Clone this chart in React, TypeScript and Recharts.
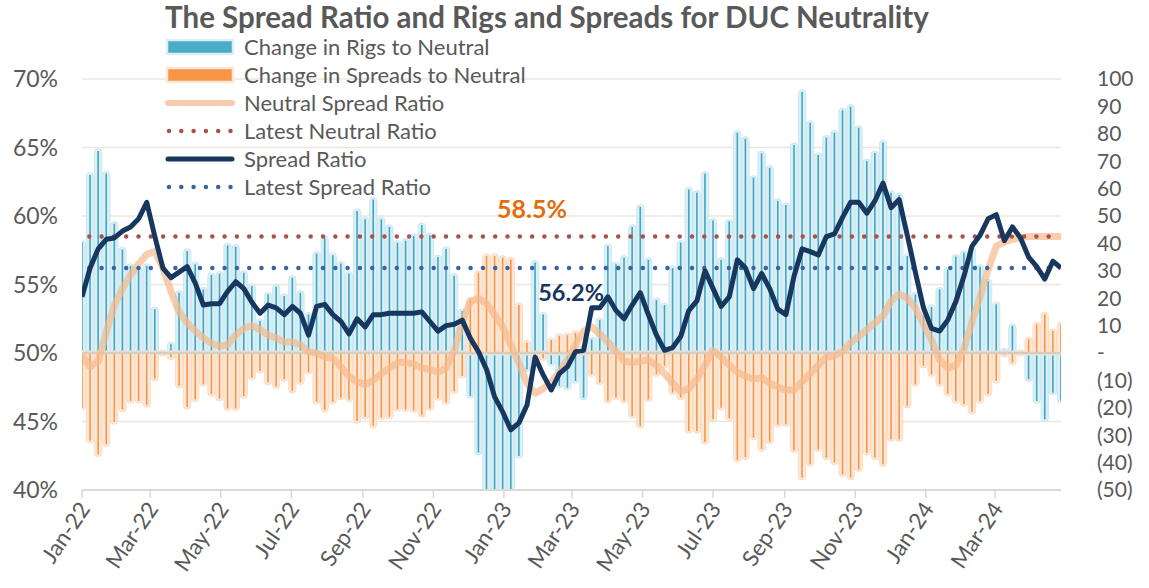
import React from 'react';
import { ComposedChart, Bar, Line, XAxis, YAxis, CartesianGrid, ReferenceLine } from 'recharts';

// ---------- data ----------
const START = Date.UTC(2022, 0, 1);
const DAY = 86400000;

const rigsChange = [
  40.3, 65, 73.7, 65.5, 47.2, 37.8, 31.8, 30.5, 31.8, 16,
  0.3, 3.2, 22, 37.2, 32.4, 23.2, 28.5, 29, 39.3, 38.8,
  29.3, 24.5, 11.7, 21.4, 24.2, 20.8, 27.5, 22, 14.1, 36.3,
  42, 35.7, 32.7, 29, 51.8, 48.8, 56, 48.8, 46, 40.3,
  41, 42.7, 46.7, 43, 35, 38, 28.2, 15.3, -15.7, -36.4,
  -50, -50, -50, -50, -37.6, -6, 33, 14.1, -4, -12,
  -12.7, -10.2, -16.3, 5, 12, 39, 32.4, 34.8, 46, 53.3,
  34, 19.3, 17.5, 31, 40.3, 59.7, 58.5, 65.5, 48.4, 34,
  48, 80.4, 78.2, 64, 72.9, 67.6, 55.5, 54, 75.9, 95.3,
  84, 72.3, 78.6, 80.4, 88.6, 89.9, 82.2, 70, 73, 76.8,
  58.5, 57.6, 35.4, 21.4, 13.5, 16.8, 23.2, 30.5, 35.2, 36.6,
  38, 31.5, 26.2, 17.8, 1, 9.9, 0.3, -9.6, -17.5, -24.2,
  -14.5, -17.5,
];

const spreadsChange = [
  -20, -32, -37, -33.3, -25.2, -20.6, -17.5, -17.5, -19, -9.4,
  -0.3, -1.7, -12, -19.7, -17, -11.4, -15, -16.7, -20.2, -20.2,
  -15.7, -9, -6.6, -10.8, -12.2, -9.6, -13.9, -10.8, -6.9, -17.8,
  -20.8, -17.8, -16.3, -17, -24.8, -23.3, -26.6, -23.6, -23.3, -20.5,
  -20.6, -21, -22.7, -20.3, -16.5, -18, -14, -8.4, 19.6, 29.3,
  35.4, 35.4, 34.8, 34.2, 17.5, 3.8, -3, -2, 4.7, 6.3,
  6.5, 7.4, 2, -7.8, -10.8, -17.5, -16.3, -17.5, -23, -26.6,
  -17, -7.8, -4.7, -14.5, -16.3, -28.5, -28.5, -32.5, -24.2, -20,
  -23.8, -39, -38.1, -30.9, -35.1, -32.4, -26.2, -26, -35.5, -45.5,
  -40.6, -35.2, -38.2, -40, -44.3, -45.5, -42.5, -36.4, -38.2, -40.6,
  -31.5, -31.5, -19.3, -11.4, -4.7, -7.8, -11.4, -15, -17.5, -18.7,
  -21.5, -17.5, -15, -10.2, -0.7, -3.5, -0.3, 5, 10.5, 14.1,
  8, 10.5,
];

const neutralRatio = [
  49.85, 49.0, 49.4, 51.5, 53.5, 54.7, 55.7, 56.5, 57.2, 57.4,
  56.2, 54.5, 53.0, 52.2, 51.6, 51.1, 50.7, 50.5, 50.6, 51.3,
  51.8, 52.0, 51.7, 51.3, 51.1, 50.8, 50.8, 50.6, 50.1, 50.0,
  49.7, 49.6, 49.0, 48.3, 47.9, 47.7, 48.0, 48.5, 48.9, 49.3,
  49.3, 49.2, 48.9, 48.8, 48.6, 48.9, 50.1, 52.3, 53.75, 54.0,
  53.6, 52.8, 51.9, 50.6, 49.3, 47.8, 47.05, 47.4, 47.9, 48.6,
  49.5, 50.6, 51.6, 51.9, 51.4, 50.8, 50.1, 49.4, 49.3, 49.4,
  49.5, 49.1, 48.5, 47.8, 47.2, 47.4, 48.1, 49.1, 50.2, 49.7,
  49.1, 48.6, 48.3, 48.1, 48.2, 47.8, 47.5, 47.3, 47.3, 47.9,
  48.5, 49.1, 49.7, 49.8, 50.1, 50.75, 51.2, 51.7, 52.2, 52.7,
  53.8, 54.3, 54.0, 53.3, 52.1, 50.95, 49.5, 48.9, 49.1, 50.3,
  52.3, 54.1, 56.1, 57.8, 58.1, 58.3, 58.4, 58.5, 58.5, 58.5,
  58.5, 58.5,
];

const spreadRatio = [
  54.1, 56.2, 57.6, 58.3, 58.4, 58.9, 59.2, 59.8, 61.0, 58.5,
  56.2, 55.5, 55.9, 56.3, 55.1, 53.5, 53.6, 53.6, 54.5, 55.2,
  54.7, 53.7, 52.9, 53.5, 53.3, 52.8, 53.4, 52.9, 51.3, 53.4,
  53.55, 52.8, 52.3, 51.4, 52.5, 51.9, 52.8, 52.8, 52.9, 52.9,
  52.9, 52.9, 53.0, 52.3, 51.6, 52.0, 52.1, 52.4, 51.07, 50.1,
  48.8, 46.8, 45.7, 44.4, 44.9, 46.2, 49.7, 48.4, 47.3, 48.5,
  49.0, 50.1, 50.2, 53.3, 53.3, 54.1, 53.1, 52.5, 53.5, 54.4,
  52.8, 51.3, 50.2, 50.4, 51.2, 53.1, 53.8, 56.0, 54.7, 53.4,
  54.1, 56.8, 56.2, 54.7, 55.8, 54.7, 53.2, 52.8, 55.6, 57.6,
  57.4, 57.15, 58.5, 58.7, 59.9, 61.0, 61.0, 60.2, 61.1, 62.4,
  60.6, 61.2, 58.6, 55.9, 53.3, 51.8, 51.6, 52.4, 53.75, 55.6,
  57.8, 58.6, 59.8, 60.1, 58.2, 59.2, 58.4, 57.0, 56.3, 55.4,
  56.7, 56.2,
];

const LATEST_NEUTRAL = 58.5;
const LATEST_SPREAD = 56.2;

const tickLabels = [
  'Jan-22', 'Mar-22', 'May-22', 'Jul-22', 'Sep-22', 'Nov-22', 'Jan-23',
  'Mar-23', 'May-23', 'Jul-23', 'Sep-23', 'Nov-23', 'Jan-24', 'Mar-24',
];
const leftTicks = [40, 45, 50, 55, 60, 65, 70];
const rightTicks = [-50, -40, -30, -20, -10, 0, 10, 20, 30, 40, 50, 60, 70, 80, 90, 100];

const MONTH_INDEX: Record<string, number> = { Jan: 0, Mar: 2, May: 4, Jul: 6, Sep: 8, Nov: 10 };
const tickValues = tickLabels.map((l) => {
  const [m, y] = l.split('-');
  return Date.UTC(2000 + Number(y), MONTH_INDEX[m], 1);
});
const labelByValue: Record<number, string> = {};
tickValues.forEach((v, i) => (labelByValue[v] = tickLabels[i]));

const data = spreadRatio.map((r, i) => ({
  date: START + i * 7 * DAY,
  rigs: rigsChange[i],
  spreads: spreadsChange[i],
  neutral: neutralRatio[i],
  ratio: r,
}));
const END = data[data.length - 1].date;

// ---------- styles ----------
const FONT = 'Lato, "Open Sans", sans-serif';
const TXT = '#595959';
const BLUE = '#3fa7c6';
const BLUE_GLOW = '#dbeff5';
const BLUE_GLOW_EDGE = '#c6e5ef';
const ORANGE = '#f79646';
const ORANGE_GLOW = '#fde8d8';
const ORANGE_GLOW_EDGE = '#fbd6ba';
const NEUTRAL_C = '#f5b98c';
const RATIO_C = '#17375e';
const RED_DOT = '#a9514f';
const BLUE_DOT = '#3a63a0';

const makeGlowBar = (line: string, glow: string, edge: string) => (props: any) => {
  const { x, y, width, height } = props;
  if (x == null || y == null || !height) return <g />;
  const cx = x + width / 2;
  const top = Math.min(y, y + height);
  const h = Math.abs(height);
  return (
    <g>
      <rect x={cx - 3.7} y={top - 2.2} width={7.4} height={h + 4.4} rx={3.7} fill={glow} stroke={edge} strokeWidth={0.8} />
      <rect x={cx - 0.8} y={top} width={1.6} height={h} fill={line} />
    </g>
  );
};

const XTick = (props: any) => {
  const { x, y, payload } = props;
  const ax = x + 9;
  const ay = y + 9;
  return (
    <text x={ax} y={ay} transform={`rotate(-56 ${ax} ${ay})`} textAnchor="end" fontSize={22.5} fontFamily={FONT} fill={TXT}>
      {labelByValue[payload.value]}
    </text>
  );
};

const fmtRight = (v: number) => (v === 0 ? '-' : v < 0 ? `(${Math.abs(v)})` : `${v}`);

const LegendRow = ({ kind, label }: { kind: string; label: string }) => {
  let sym: React.ReactNode = null;
  if (kind === 'rigs')
    sym = <rect x={2} y={4} width={66} height={14} fill="#4bacc6" stroke={BLUE_GLOW} strokeWidth={2.5} />;
  if (kind === 'spreads')
    sym = <rect x={2} y={4} width={66} height={14} fill={ORANGE} stroke={ORANGE_GLOW} strokeWidth={2.5} />;
  if (kind === 'neutral')
    sym = <line x1={3} y1={11} x2={67} y2={11} stroke="#f8cbad" strokeWidth={6} strokeLinecap="round" />;
  if (kind === 'latestNeutral')
    sym = <line x1={4} y1={11} x2={68} y2={11} stroke={RED_DOT} strokeWidth={4.5} strokeDasharray="0 12.3" strokeLinecap="round" />;
  if (kind === 'ratio')
    sym = <line x1={3} y1={11} x2={67} y2={11} stroke={RATIO_C} strokeWidth={5} strokeLinecap="round" />;
  if (kind === 'latestRatio')
    sym = <line x1={4} y1={11} x2={68} y2={11} stroke={BLUE_DOT} strokeWidth={4.5} strokeDasharray="0 12.3" strokeLinecap="round" />;
  return (
    <div style={{ display: 'flex', alignItems: 'center', height: 28 }}>
      <svg width={72} height={22} style={{ marginRight: 7 }}>{sym}</svg>
      <span>{label}</span>
    </div>
  );
};

const legendItems = [
  { kind: 'rigs', label: 'Change in Rigs to Neutral' },
  { kind: 'spreads', label: 'Change in Spreads to Neutral' },
  { kind: 'neutral', label: 'Neutral Spread Ratio' },
  { kind: 'latestNeutral', label: 'Latest Neutral Ratio' },
  { kind: 'ratio', label: 'Spread Ratio' },
  { kind: 'latestRatio', label: 'Latest Spread Ratio' },
];

const NeutralLabel = (props: any) => {
  const { viewBox } = props;
  return (
    <text x={viewBox.x + viewBox.width * 0.424} y={viewBox.y - 19} fontSize={25} fontWeight={700} fontFamily={FONT} fill="#e46c0a">
      {`${LATEST_NEUTRAL.toFixed(1)}%`}
    </text>
  );
};
const SpreadLabel = (props: any) => {
  const { viewBox } = props;
  return (
    <text x={viewBox.x + viewBox.width * 0.466} y={viewBox.y + 33} fontSize={23.5} fontWeight={700} fontFamily={FONT} fill={RATIO_C}>
      {`${LATEST_SPREAD.toFixed(1)}%`}
    </text>
  );
};

export default function App() {
  return (
    <div style={{ position: 'relative', width: 1149, height: 588, background: '#fff', fontFamily: FONT }}>
      <style>{'body{margin:0}'}</style>
      <ComposedChart
        width={1149}
        height={588}
        data={data}
        stackOffset="sign"
        margin={{ top: 79, right: 0, bottom: 0, left: 0 }}
      >
        <CartesianGrid yAxisId="left" vertical={false} stroke="#ebe7df" strokeWidth={1.5} />
        <XAxis
          dataKey="date"
          type="number"
          scale="linear"
          domain={[START, END]}
          ticks={tickValues}
          interval={0}
          tick={<XTick />}
          tickSize={8}
          tickLine={{ stroke: '#d9d9d9', strokeWidth: 1.5 }}
          axisLine={{ stroke: '#d9d9d9', strokeWidth: 2 }}
          height={98}
          allowDataOverflow
        />
        <YAxis
          yAxisId="left"
          domain={[40, 70]}
          ticks={leftTicks}
          interval={0}
          tickFormatter={(v: number) => `${v}%`}
          tick={{ fontSize: 23, fill: TXT, fontFamily: FONT }}
          tickSize={0}
          tickMargin={24}
          axisLine={false}
          width={82}
          allowDataOverflow
        />
        <YAxis
          yAxisId="right"
          orientation="right"
          domain={[-50, 100]}
          ticks={rightTicks}
          interval={0}
          tickFormatter={fmtRight}
          tick={{ fontSize: 21, fill: TXT, fontFamily: FONT, textAnchor: 'start' }}
          tickSize={0}
          tickMargin={36}
          axisLine={false}
          width={88}
          allowDataOverflow
        />
        <ReferenceLine yAxisId="left" y={50} stroke="#d6cfc1" strokeWidth={2.5} />
        <Bar yAxisId="right" dataKey="rigs" stackId="s" barSize={8} isAnimationActive={false}
          shape={makeGlowBar(BLUE, BLUE_GLOW, BLUE_GLOW_EDGE)} />
        <Bar yAxisId="right" dataKey="spreads" stackId="s" barSize={8} isAnimationActive={false}
          shape={makeGlowBar(ORANGE, ORANGE_GLOW, ORANGE_GLOW_EDGE)} />
        <Line yAxisId="left" dataKey="neutral" stroke={NEUTRAL_C} strokeOpacity={0.7} strokeWidth={7}
          dot={false} isAnimationActive={false} strokeLinejoin="round" />
        <ReferenceLine yAxisId="left" y={LATEST_NEUTRAL} stroke={RED_DOT} strokeWidth={4.5}
          strokeDasharray="0 12.3" strokeLinecap="round" strokeDashoffset={5} label={<NeutralLabel />} />
        <ReferenceLine yAxisId="left" y={LATEST_SPREAD} stroke={BLUE_DOT} strokeWidth={4.5}
          strokeDasharray="0 12.3" strokeLinecap="round" strokeDashoffset={5} label={<SpreadLabel />} />
        <Line yAxisId="left" dataKey="ratio" stroke={RATIO_C} strokeWidth={5}
          dot={false} isAnimationActive={false} strokeLinejoin="round" />
      </ComposedChart>

      <div style={{ position: 'absolute', left: 0, width: 1094, top: 0, lineHeight: '34px', textAlign: 'center', fontSize: 29.5, fontWeight: 700, color: TXT, whiteSpace: 'nowrap' }}>
        The Spread Ratio and Rigs and Spreads for DUC Neutrality
      </div>
      <div style={{ position: 'absolute', left: 165, top: 33, fontSize: 22, color: TXT, lineHeight: '28px' }}>
        {legendItems.map((it) => (
          <LegendRow key={it.kind} kind={it.kind} label={it.label} />
        ))}
      </div>
    </div>
  );
}
